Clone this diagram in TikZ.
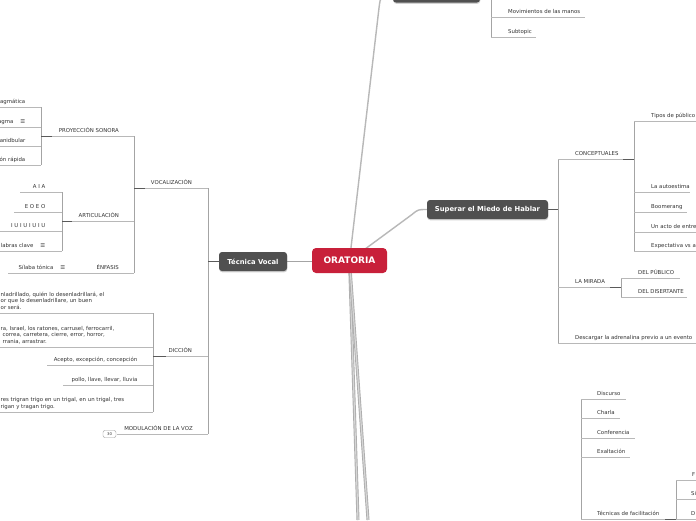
\documentclass[tikz,border=0pt]{standalone}
\usepackage{fontspec}
\setmainfont{DejaVu Sans}
\usetikzlibrary{backgrounds, shadows}
\definecolor{orared}{HTML}{C8203A}
\definecolor{boxdark}{HTML}{505050}
\definecolor{txtgray}{HTML}{333333}
\definecolor{linegray}{HTML}{B8B8B8}
\definecolor{stemgray}{HTML}{A4A4A4}
\definecolor{jointgray}{HTML}{5A5A5A}

\begin{document}
\begin{tikzpicture}[
    x=1pt, y=-1pt,
    rootbox/.style={rounded corners=4pt, fill=orared, text=white, inner sep=0pt,
        font=\fontsize{9}{10}\selectfont\bfseries},
    topicbox/.style={rounded corners=3pt, fill=boxdark, text=white, inner sep=0pt,
        font=\fontsize{6.8}{8}\selectfont\bfseries,
        drop shadow={shadow xshift=0.3pt, shadow yshift=-1.3pt, opacity=0.35}},
    lbl/.style={font=\fontsize{5.4}{6.6}\selectfont, text=txtgray, inner sep=0pt},
    lw/.style={lbl, anchor=base west},
    le/.style={lbl, anchor=base east},
    blk/.style={lbl, anchor=south west, align=left, inner ysep=1.5pt},
    under/.style={draw=linegray, line width=0.9pt},
    stem/.style={draw=stemgray, line width=0.9pt},
    joint/.style={draw=jointgray, line width=0.9pt},
    trunk/.style={draw=black!32, line width=0.9pt, double=black!16, double distance=1.2pt},
    twig/.style={draw=black!28, line width=1.4pt},
]

\useasboundingbox (0,0) rectangle (696,520);

% Main topics
\node[rootbox, minimum width=75pt, minimum height=25pt] (orat) at (349.5,260.5) {ORATORIA};
\node[topicbox, minimum width=68pt, minimum height=19pt] (tv) at (253,261.5) {Técnica Vocal};
\node[topicbox, minimum width=121pt, minimum height=19pt] (sup) at (487.5,209.5) {Superar el Miedo de Hablar};
\node[topicbox, minimum width=87pt, minimum height=26pt] (top) at (436.5,-10.5) {};

\coordinate (offA) at (358,520);
\coordinate (offB) at (368,520);

\begin{scope}[on background layer]
    \fill[white] (0,0) rectangle (696,520);
    \draw[trunk] (orat.center) -- (offA);
    \draw[trunk] (orat.center) -- (offB);
    \draw[twig] (orat.center) -- (379,8) .. controls (380.5,-4) .. (top.west);
    \draw[twig] (orat.center) -- (412,214.5) .. controls (418,209.5) .. (sup.west);
    \draw[stem] (tv.east) -- (orat.west |- tv.east);
\end{scope}

% ---------------------------------------------------------
% TECNICA VOCAL (left)
% ---------------------------------------------------------
\draw[stem] (208,188) -- (208,434);
\draw[joint] (tv.west) -- (208,261.5);

\node[le] (voc) at (192,184.5) {VOCALIZACIÓN};
\draw[under] (134,188) -- (208,188);
\node[le] (dic) at (192,352.5) {DICCIÓN};
\draw[under] (153,356) -- (208,356);
\node[le] (mod) at (193,430.5) {MODULACIÓN DE LA VOZ};
\draw[under] (117,434) -- (208,434);
\node[draw=black!40, rounded corners=2pt, inner sep=0pt, minimum width=13pt, minimum height=7pt,
    font=\fontsize{3.8}{4}\selectfont, text=txtgray] (cnt) at (109.5,434) {30};

% Vocalizacion
\draw[stem] (134,136) -- (134,273);
\foreach \txt/\u/\s [count=\i] in {PROYECCIÓN SONORA/136/41, ARTICULACIÓN/221/62, ÉNFASIS/273/80} {
    \node[le] (voc\i) at (119,\u-3.5) {\txt};
    \draw[under] (\s,\u) -- (134,\u);
}

% Proyeccion sonora
\draw[stem] (41,107) -- (41,165);
\foreach \txt/\u [count=\i] in {agmática/107, agma\hspace{7pt}☰/127, anidbular/146, ón rápida/165} {
    \node[le] (proy\i) at (25.5,\u-3.5) {\txt};
    \draw[under] (0,\u) -- (41,\u);
}

% Articulacion
\draw[stem] (62,192) -- (62,251);
\foreach \txt/\u/\s [count=\i] in {A I A/192/20, E O E O/212/14, I U I U I U I U/231/0, labras clave\hspace{7pt}☰/251/0} {
    \node[le] (art\i) at (45.5,\u-3.5) {\txt};
    \draw[under] (\s,\u) -- (62,\u);
}

% Enfasis
\node[le] (sil) at (65.5,269.5) {Sílaba tónica\hspace{7pt}☰};
\draw[under] (8,273) -- (80,273);

% Diccion
\draw[stem] (153,313) -- (153,412);
\node[blk] (dic1) at (0.5,313) {nladrillado, quién lo desenladrillará, el\\or que lo desenladrillare, un buen\\or será.\strut};
\draw[under] (0,313) -- (153,313);
\node[blk] (dic2) at (0.5,347) {ra, Israel, los ratones, carrusel, ferrocarril,\\\hspace*{2pt}correa, carretera, cierre, error, horror,\\\hspace*{2pt}rrania, arrastrar.\strut};
\draw[under] (0,347) -- (153,347);
\node[le] (dic3) at (137.5,361.5) {Acepto, excepción, concepción};
\draw[under] (47,365) -- (153,365);
\node[le] (dic4) at (137.5,381.5) {pollo, llave, llevar, lluvia};
\draw[under] (63,385) -- (153,385);
\node[blk] (dic5) at (0.5,412) {res trigran trigo en un trigal, en un trigal, tres\\rigan y tragan trigo.\strut};
\draw[under] (0,412) -- (153,412);

% ---------------------------------------------------------
% SUPERAR EL MIEDO (right)
% ---------------------------------------------------------
\draw[stem] (558,159) -- (558,343);
\draw[joint] (sup.east) -- (558,209.5);
\foreach \txt/\u/\e [count=\i] in {CONCEPTUALES/159/634, LA MIRADA/287/621, Descargar la adrenalina previo a un evento/343/700} {
    \node[lw] (mied\i) at (575,\u-3.5) {\txt};
    \draw[under] (558,\u) -- (\e,\u);
}

% Conceptuales
\draw[stem] (634,121) -- (634,251);
\foreach \txt/\u/\e [count=\i] in {Tipos de público/121/700, La autoestima/192/690, Boomerang/212/687, Un acto de entre/232/700, Expectativa vs a/251/700} {
    \node[lw] (conc\i) at (651,\u-3.5) {\txt};
    \draw[under] (634,\u) -- (\e,\u);
}

% La mirada
\draw[stem] (621,278) -- (621,297);
\foreach \txt/\u/\e [count=\i] in {DEL PÚBLICO/278/680, DEL DISERTANTE/297/687} {
    \node[lw] (mir\i) at (638,\u-3.5) {\txt};
    \draw[under] (621,\u) -- (\e,\u);
}

% ---------------------------------------------------------
% TOP and BOTTOM branches
% ---------------------------------------------------------
\draw[stem] (491,0) -- (491,37);
\foreach \txt/\u/\e [count=\i] in {Movimientos de las manos/17/585, Subtopic/37/536} {
    \node[lw] (mov\i) at (508,\u-3.5) {\txt};
    \draw[under] (491,\u) -- (\e,\u);
}

\draw[stem] (581,399) -- (581,520);
\foreach \txt/\u/\e [count=\i] in {Discurso/399/626, Charla/418/620, Conferencia/438/635, Exaltación/457/630, Técnicas de facilitación/519/676} {
    \node[lw] (disc\i) at (597,\u-3.5) {\txt};
    \draw[under] (581,\u) -- (\e,\u);
}

\draw[stem] (676,480) -- (676,520);
\foreach \txt/\u/\x [count=\i] in {F/480/692, Si/499/691, D/519/691} {
    \node[lw] (fac\i) at (\x,\u-3.5) {\txt};
    \draw[under] (676,\u) -- (700,\u);
}

% darker joints near child stems
\foreach \a/\b/\u in {41/52/136, 62/72/221, 134/145/188, 153/166/356, 623/634/159, 610/621/287, 665/676/519} {
    \draw[joint] (\a,\u) -- (\b,\u);
}

\end{tikzpicture}
\end{document}
